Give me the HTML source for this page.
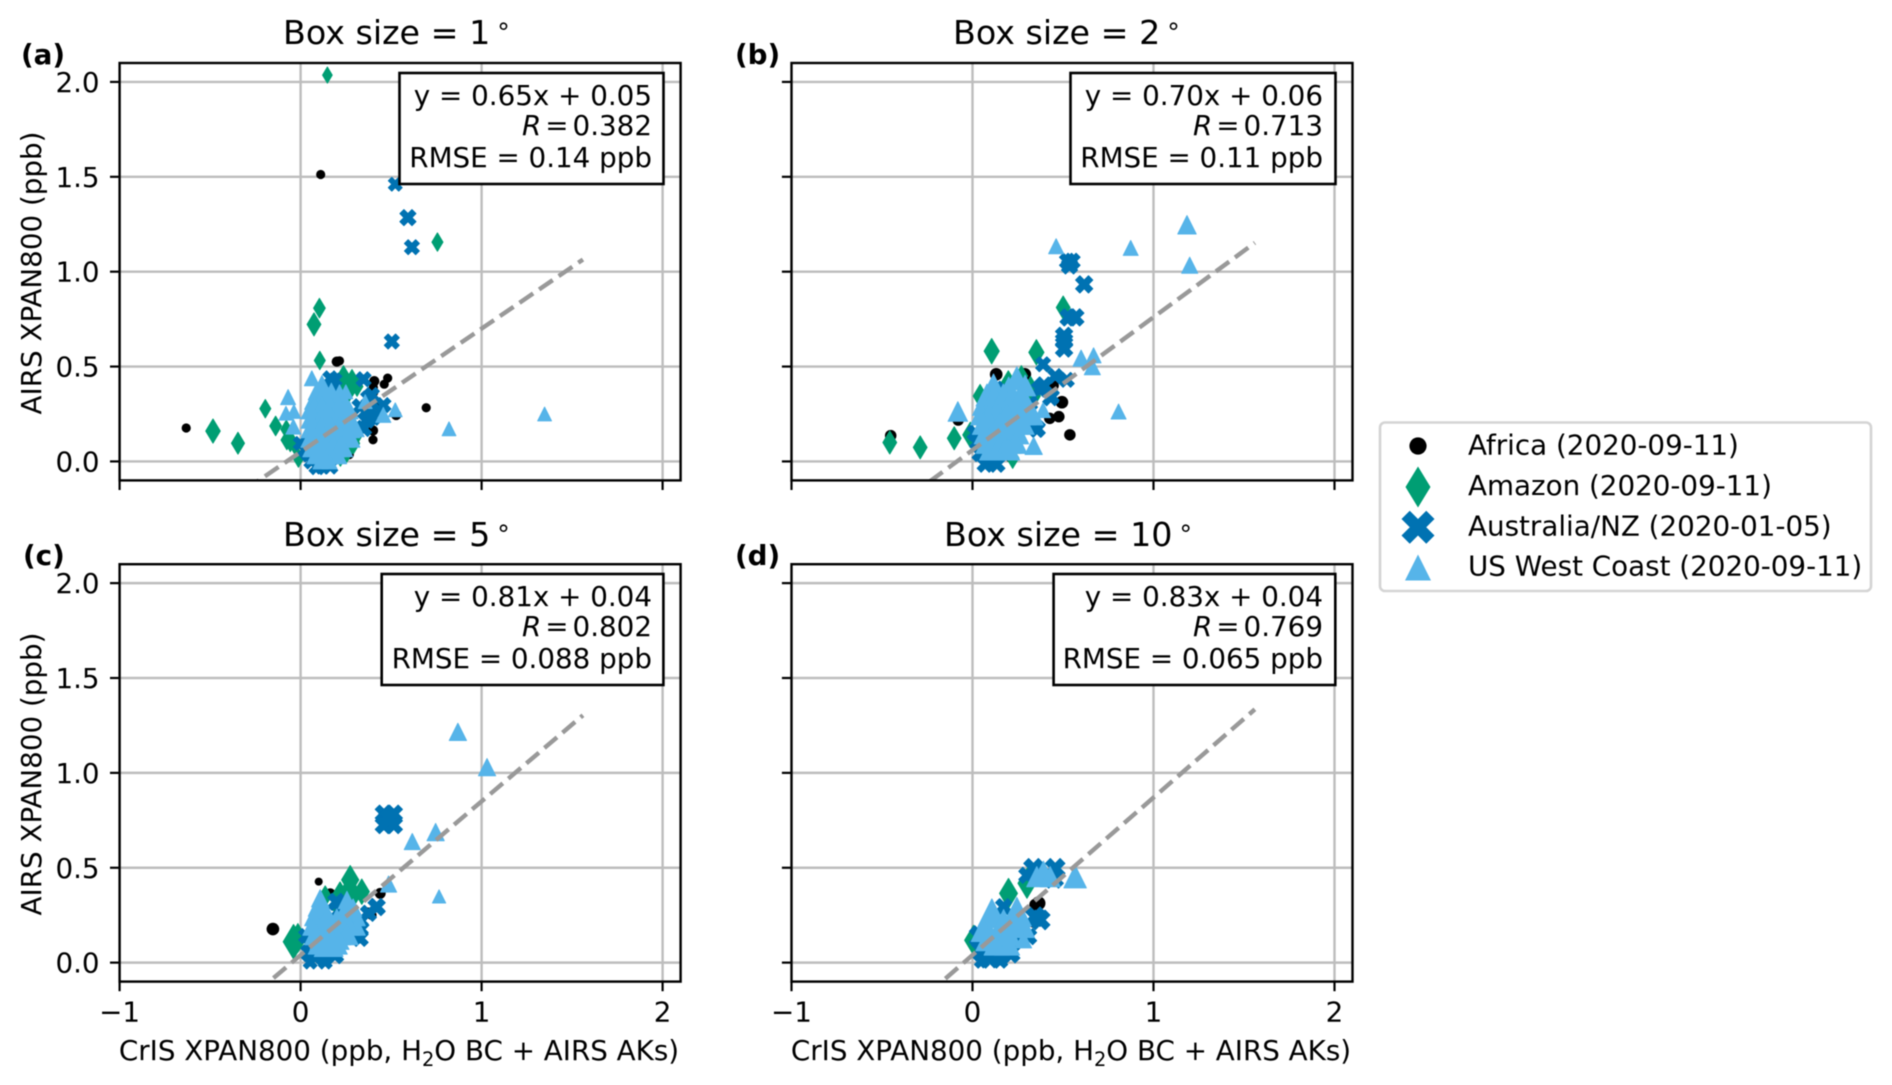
<!DOCTYPE html>
<html lang="en">
<head>
<meta charset="utf-8">
<title>AIRS vs CrIS XPAN800 scatter panels</title>
<style>
html,body{margin:0;padding:0;background:#fff;width:1892px;height:1085px;overflow:hidden}
svg{display:block;filter:blur(.55px)}
text{font-family:"DejaVu Sans","Liberation Sans",sans-serif;fill:#000}
</style>
</head>
<body>
<svg id="figure" xmlns="http://www.w3.org/2000/svg" width="1892" height="1085" viewBox="0 0 1892 1085">
  <rect width="1892" height="1085" fill="#fff"/>
  <g id="panels"></g>

  <g font-size="33.3">
    <text x="283" y="44">Box size = 1<tspan dx="7" font-size="25" dy="-3">°</tspan></text>
    <text x="953" y="44">Box size = 2<tspan dx="7" font-size="25" dy="-3">°</tspan></text>
    <text x="283" y="546">Box size = 5<tspan dx="7" font-size="25" dy="-3">°</tspan></text>
    <text x="944" y="546">Box size = 10<tspan dx="7" font-size="25" dy="-3">°</tspan></text>
  </g>

  <g font-size="27.75" font-weight="bold">
    <text x="21" y="64">(a)</text>
    <text x="735" y="64">(b)</text>
    <text x="23" y="565">(c)</text>
    <text x="735" y="565">(d)</text>
  </g>

  <g font-size="27.75" text-anchor="middle">
    <text transform="translate(41,273) rotate(-90)">AIRS XPAN800 (ppb)</text>
    <text transform="translate(41,774) rotate(-90)">AIRS XPAN800 (ppb)</text>
  </g>

  <g font-size="27.75" text-anchor="middle">
    <text x="399" y="1060">CrIS XPAN800 (ppb, H<tspan font-size="19.4" dy="6">2</tspan><tspan dy="-6">O BC + AIRS AKs)</tspan></text>
    <text x="1071" y="1060">CrIS XPAN800 (ppb, H<tspan font-size="19.4" dy="6">2</tspan><tspan dy="-6">O BC + AIRS AKs)</tspan></text>
  </g>

  <g>
    <rect x="399.5" y="73" width="264" height="111" fill="#fff" stroke="#000" stroke-width="2.6"/>
    <g font-size="27.75" text-anchor="end">
      <text x="652" y="105">y = 0.65x + 0.05</text>
      <text x="652" y="135"><tspan font-style="italic">R</tspan><tspan dx="4">=</tspan><tspan dx="4">0.382</tspan></text>
      <text x="652" y="167">RMSE = 0.14 ppb</text>
    </g>
  </g>
  <g>
    <rect x="1070.5" y="73" width="265" height="111" fill="#fff" stroke="#000" stroke-width="2.6"/>
    <g font-size="27.75" text-anchor="end">
      <text x="1323" y="105">y = 0.70x + 0.06</text>
      <text x="1323" y="135"><tspan font-style="italic">R</tspan><tspan dx="4">=</tspan><tspan dx="4">0.713</tspan></text>
      <text x="1323" y="167">RMSE = 0.11 ppb</text>
    </g>
  </g>
  <g>
    <rect x="381.7" y="574" width="281.7" height="111" fill="#fff" stroke="#000" stroke-width="2.6"/>
    <g font-size="27.75" text-anchor="end">
      <text x="652" y="606">y = 0.81x + 0.04</text>
      <text x="652" y="636"><tspan font-style="italic">R</tspan><tspan dx="4">=</tspan><tspan dx="4">0.802</tspan></text>
      <text x="652" y="668">RMSE = 0.088 ppb</text>
    </g>
  </g>
  <g>
    <rect x="1053.6" y="574" width="281.7" height="111" fill="#fff" stroke="#000" stroke-width="2.6"/>
    <g font-size="27.75" text-anchor="end">
      <text x="1323" y="606">y = 0.83x + 0.04</text>
      <text x="1323" y="636"><tspan font-style="italic">R</tspan><tspan dx="4">=</tspan><tspan dx="4">0.769</tspan></text>
      <text x="1323" y="668">RMSE = 0.065 ppb</text>
    </g>
  </g>

  <g>
    <rect x="1380" y="422.5" width="491" height="168.5" rx="5" ry="5" fill="#fff" stroke="#d4d4d4" stroke-width="2.6"/>
    <g>
      <circle cx="1418" cy="446" r="8.6" fill="#000"/>
      <text x="1468" y="454.5" font-size="27.75">Africa (2020-09-11)</text>
    </g>
    <g>
      <polygon points="1418,466.5 1430.5,487 1418,507.5 1405.5,487" fill="#009e73"/>
      <text x="1468" y="495" font-size="27.75">Amazon (2020-09-11)</text>
    </g>
    <g>
      <polygon points="1409.75,510.7 1418,518.95 1426.25,510.7 1434.5,518.95 1426.25,527.2 1434.5,535.45 1426.25,543.7 1418,535.45 1409.75,543.7 1401.5,535.45 1409.75,527.2 1401.5,518.95" fill="#0072b2"/>
      <text x="1468" y="535.5" font-size="27.75">Australia/NZ (2020-01-05)</text>
    </g>
    <g>
      <polygon points="1418,554.5 1431,580.5 1405,580.5" fill="#56b4e9"/>
      <text x="1468" y="575.5" font-size="27.75">US West Coast (2020-09-11)</text>
    </g>
  </g>
</svg>

<script>
// Axis tick values and labels (shared across panels)
const xTickValues = [-1, 0, 1, 2];
const xTickLabels = ["\u22121", "0", "1", "2"];
const yTickValues = [0, 0.5, 1, 1.5, 2];
const yTickLabels = ["0.0", "0.5", "1.0", "1.5", "2.0"];

// Regression fits: slope, intercept, x start, x end
const fitA = [0.65, 0.05, -0.63, 1.56];
const fitB = [0.70, 0.06, -0.45, 1.56];
const fitC = [0.81, 0.04, -0.15, 1.56];
const fitD = [0.83, 0.04, -0.15, 1.56];

// Scatter points: [CrIS, AIRS, relative marker weight]
const panelAAfrica = [[-.632,.176,.8],[.111,1.512,.8],[.2,.526,.9],[.215,.53,.8],[.481,.439,.8],[.462,.407,.8],[.407,.423,.9],[.402,.39,.8],[.694,.283,.8],[.528,.245,.9],[.4,.163,.9],[.4,.114,.8],[.269,.036,.8],[.407,.363,.7],[.425,.29,.7],[.41,.33,.6]];
const panelAAmazon = [[.148,2.036,1.4],[.756,1.156,1.6],[.104,.808,1.7],[.074,.722,2],[.106,.532,1.6],[-.195,.278,1.6],[-.484,.16,2.1],[-.346,.096,1.9],[-.138,.187,1.7],[-.079,.169,1.6],[-.057,.109,1.9],[-.076,.113,1.7],[-.012,.018,1.6],[.237,.438,2.2],[.284,.43,1.8],[.312,.395,1.7],[.19,.42,1.6],[.27,.37,1.7],[.292,.095,1.8],[.302,.13,1.8],[.255,.047,1.7],[.22,.02,1.5],[-.03,.08,1.5]];
const panelAAustralia = [[.523,1.461,1.2],[.593,1.285,1.4],[.615,1.129,1.3],[.504,.632,1.3],[.164,.438,1.3],[.19,.43,1.2],[.348,.433,1.3],[.173,.367,1.3],[.394,.35,1.3],[.37,.335,1.2],[.458,.297,1.3],[.366,.218,1.4],[.348,.174,1.4],[.329,.288,1.4],[.39,.27,1.4],[.4,.23,1.3],[.36,.26,1.4],[.044,.034,1.2],[.091,-.027,1.4],[.12,-.027,1.3],[-.002,.095,1.2],[.025,.06,1.3],[.164,-.027,1.3],[.06,.0,1.3]];
const panelAUS = [[1.348,.25,1.2],[.82,.172,1.2],[.523,.272,1.2],[.457,.245,1.3],[-.069,.339,1.3],[-.081,.254,1.2],[-.037,.263,1.2],[-.04,.183,1.3],[.062,.438,1.3],[.118,.41,1.4],[.215,.367,1.2],[.25,.367,1.2],[.357,.315,1.2],
  [.09,.37,1.5],[.13,.37,1.5],[.17,.37,1.4],[.07,.32,1.5],[.11,.32,1.5],[.16,.32,1.5],[.2,.32,1.5],[.24,.32,1.5],
  [.05,.27,1.5],[.09,.27,1.5],[.14,.27,1.5],[.19,.27,1.5],[.23,.27,1.5],[.27,.27,1.5],[.05,.22,1.5],[.09,.22,1.5],[.14,.22,1.5],[.19,.22,1.5],[.24,.22,1.5],[.28,.22,1.5],
  [.05,.17,1.5],[.09,.17,1.5],[.14,.17,1.5],[.19,.17,1.5],[.24,.17,1.5],[.28,.17,1.5],[.31,.17,1.3],[.05,.12,1.5],[.1,.12,1.5],[.15,.12,1.5],[.2,.12,1.5],[.25,.12,1.5],[.28,.12,1.5],
  [.06,.07,1.5],[.11,.07,1.5],[.16,.07,1.5],[.2,.07,1.5],[.24,.07,1.5],[.08,.03,1.4],[.13,.03,1.4],[.18,.03,1.4],[.21,.03,1.4],[.11,.0,1.3],[.16,.0,1.3],
  [.075,.295,1.5],[.115,.295,1.5],[.165,.295,1.5],[.21,.295,1.5],[.25,.295,1.5],[.07,.245,1.5],[.115,.245,1.5],[.165,.245,1.5],[.21,.245,1.5],[.26,.245,1.5],[.07,.195,1.5],[.115,.195,1.5],[.165,.195,1.5],[.215,.195,1.5],[.26,.195,1.5],[.07,.145,1.5],[.125,.145,1.5],[.175,.145,1.5],[.225,.145,1.5],[.265,.145,1.5],[.08,.095,1.5],[.13,.095,1.5],[.18,.095,1.5],[.225,.095,1.5]];

const panelBAfrica = [[-.452,.136,1],[.131,.459,1.1],[.289,.459,1.1],[-.079,.218,1],[.494,.312,1.1],[.477,.236,1],[.427,.227,1],[.538,.14,1],[.449,.4,.9],[.254,.067,.9],[.21,.018,.8]];
const panelBAmazon = [[-.457,.1,2],[-.289,.074,2],[-.101,.122,2],[-.012,.14,2.2],[.106,.581,2.2],[.353,.575,2.2],[.501,.811,2],[.042,.345,2],[.198,.417,2],[.321,.381,2.2],[.333,.345,2.2],[.222,.018,1.8],[.27,.45,1.8]];
const panelBAustralia = [[.525,1.055,1.4],[.55,1.055,1.4],[.536,1.03,1.4],[.617,.933,1.5],[.531,.759,1.5],[.568,.759,1.5],[.506,.662,1.5],[.506,.635,1.5],[.506,.595,1.5],[.39,.512,1.3],[.457,.45,1.3],[.521,.43,1.3],[.395,.4,1.5],[.432,.336,1.4],[.392,.395,1.5],[.438,.342,1.3],[.318,.306,1.3],[.358,.172,1.4],[.356,.166,1.3],[.07,-.015,1.4],[.135,-.015,1.4],[.081,.02,1.4],[.015,.15,1.4],[.025,.1,1.3],[.042,.042,1.4],[.173,.381,1.4],[.37,.381,1.4]];
const panelBUS = [[1.185,1.247,1.6],[1.2,1.034,1.4],[.874,1.125,1.3],[.462,1.134,1.3],[.6,.544,1.4],[.669,.559,1.3],[.662,.499,1.4],[.807,.263,1.3],[.338,.082,1.5],[-.081,.263,1.7],
  [.116,.40,2],[.245,.438,2],[.291,.40,1.8],[.2,.39,1.8],[.39,.27,1.3],
  [.08,.35,1.9],[.12,.35,1.9],[.17,.35,1.9],[.22,.35,1.9],[.27,.35,1.9],[.06,.30,1.9],[.1,.30,1.9],[.15,.30,1.9],[.2,.30,1.9],[.25,.30,1.9],[.3,.30,1.9],
  [.05,.25,1.9],[.09,.25,1.9],[.14,.25,1.9],[.19,.25,1.9],[.24,.25,1.9],[.29,.25,1.9],[.33,.25,1.9],[.06,.20,1.9],[.1,.20,1.9],[.15,.20,1.9],[.2,.20,1.9],[.25,.20,1.9],[.28,.20,1.9],
  [.07,.15,1.9],[.11,.15,1.9],[.16,.15,1.9],[.21,.15,1.9],[.25,.15,1.9],[.08,.10,1.9],[.12,.10,1.9],[.17,.10,1.9],[.21,.10,1.9],[.24,.10,1.9],[.1,.065,1.9],[.14,.065,1.9],[.18,.065,1.9],[.2,.065,1.9]];

const panelCAfrica = [[-.153,.177,1.1],[.1,.427,.7],[.164,.365,.9],[.44,.365,.95],[.393,.25,.85],[.37,.27,.7]];
const panelCAmazon = [[.274,.436,2.5],[.338,.374,2.2],[.218,.365,2],[.27,.39,2.2],[-.039,.11,3],[-.015,.13,2.5],[.136,.35,1.8],[.3,.36,1.8],[.2,.3,1.8]];
const panelCAustralia = [[.46,.785,1.5],[.515,.785,1.5],[.46,.725,1.5],[.515,.725,1.5],[.486,.759,1.7],[.42,.293,1.5],[.422,.295,1.3],[.375,.26,1.4],[.33,.22,1.5],[.326,.181,1.5],[.329,.128,1.4],[.3,.17,1.5],[.198,.32,1.5],[.22,.28,1.5],[.053,.003,1.2],[.136,.003,1.2],[.05,.05,1.5],[.08,.03,1.5],[.13,.03,1.5],[.19,.04,1.5],[.05,.1,1.5],[.03,.14,1.3]];
const panelCUS = [[.869,1.216,1.5],[1.03,1.03,1.5],[.746,.688,1.5],[.617,.638,1.4],[.486,.414,1.4],[.765,.349,1.15],[.108,.339,1.5],[.256,.33,1.5],
  [.09,.29,1.5],[.13,.29,1.5],[.25,.29,1.5],[.29,.29,1.5],[.07,.24,1.5],[.11,.24,1.5],[.15,.24,1.5],[.2,.24,1.4],[.24,.24,1.5],[.28,.24,1.5],[.31,.24,1.5],
  [.06,.19,1.5],[.1,.19,1.5],[.14,.19,1.5],[.19,.19,1.5],[.24,.19,1.5],[.28,.19,1.5],[.31,.19,1.5],[.07,.14,1.5],[.11,.14,1.5],[.15,.14,1.5],[.19,.14,1.5],[.23,.14,1.5],[.27,.14,1.5],
  [.09,.09,1.5],[.13,.09,1.5],[.17,.09,1.5],[.21,.09,1.5],[.12,.075,1.4],[.16,.075,1.4],[.19,.075,1.4],[.085,.215,1.5],[.125,.215,1.5],[.17,.215,1.5],[.215,.215,1.5],[.26,.215,1.5],[.085,.165,1.5],[.13,.165,1.5],[.17,.165,1.5],[.215,.165,1.5],[.255,.165,1.5],[.1,.115,1.5],[.14,.115,1.5],[.18,.115,1.5],[.22,.115,1.5]];

const panelDAfrica = [[.365,.313,1.2],[.347,.305,1.05],[.337,.204,.7]];
const panelDAmazon = [[.006,.118,2.6],[.199,.365,2.6],[.301,.418,2.6],[.31,.45,1.9]];
const panelDAustralia = [[.337,.497,1.7],[.457,.497,1.7],[.448,.444,1.7],[.3,.46,1.4],[.346,.242,1.7],[.374,.225,1.7],[.052,.066,1.9],[.153,.05,1.9],[.208,.05,1.7],[.052,.01,1.3],[.153,.01,1.3],[.043,.137,1.9],[.09,.03,1.9],[.172,.295,1.4],[.245,.137,1.4],[.31,.137,1.4]];
const panelDUS = [[.567,.453,1.95],[.392,.471,2.1],[.355,.453,1.75],[.429,.453,1.75],[.107,.26,2.5],[.245,.268,2.5],[.06,.175,2.1],[.172,.21,2.3],[.282,.19,1.9],[.282,.12,1.4],[.134,.106,2.2],[.19,.106,2.2],[.079,.12,1.9],[.15,.17,2.1],[.22,.2,2.1],[.1,.14,2],[.2,.15,2]];

// Series styling
const seriesColors = {africa:"#000000", amazon:"#009e73", australia:"#0072b2", us:"#56b4e9"};

const svgNS = "http://www.w3.org/2000/svg";
const panelHost = document.getElementById("panels");
const weightUnit = 11.5;

function markerPoints(kind, cx, cy, s) {
  let pts;
  if (kind === "amazon") pts = [[0,-.5],[.3,0],[0,.5],[-.3,0]];
  else if (kind === "australia") pts = [[-.25,-.5],[0,-.25],[.25,-.5],[.5,-.25],[.25,0],[.5,.25],[.25,.5],[0,.25],[-.25,.5],[-.5,.25],[-.25,0],[-.5,-.25]];
  else pts = [[0,-.5],[.5,.5],[-.5,.5]];
  return pts.map(p => (cx + p[0]*s).toFixed(2) + "," + (cy + p[1]*s).toFixed(2)).join(" ");
}

function drawSeries(parent, kind, points, sx, sy, panelId) {
  const g = document.createElementNS(svgNS, "g");
  
  
  g.setAttribute("fill", seriesColors[kind]);
  if (kind !== "africa") {
    g.setAttribute("stroke", seriesColors[kind]);
    g.setAttribute("stroke-width", "1");
    g.setAttribute("stroke-linejoin", "round");
  }
  points.forEach(p => {
    const cx = sx(p[0]), cy = sy(p[1]), s = p[2] * weightUnit;
    let m;
    if (kind === "africa") {
      m = document.createElementNS(svgNS, "circle");
      m.setAttribute("cx", cx.toFixed(2));
      m.setAttribute("cy", cy.toFixed(2));
      m.setAttribute("r", (s / 2).toFixed(2));
    } else {
      m = document.createElementNS(svgNS, "polygon");
      m.setAttribute("points", markerPoints(kind, cx, cy, s));
    }
    
    
    g.appendChild(m);
  });
  parent.appendChild(g);
}

function drawPanel(id, left, top, xLabels, yLabels, africa, amazon, australia, us, fit) {
  const axW = 561, axH = 417.4;
  const sx = v => left + (v + 1) * 181;
  const sy = v => top + axH - (v + 0.1) * 189.75;
  const bottom = top + axH, right = left + axW;

  const root = document.createElementNS(svgNS, "g");
  
  
  panelHost.appendChild(root);

  const clip = document.createElementNS(svgNS, "clipPath");
  clip.setAttribute("id", "clip-" + id);
  const clipRect = document.createElementNS(svgNS, "rect");
  clipRect.setAttribute("x", left);
  clipRect.setAttribute("y", top);
  clipRect.setAttribute("width", axW);
  clipRect.setAttribute("height", axH);
  clip.appendChild(clipRect);
  root.appendChild(clip);

  const grid = document.createElementNS(svgNS, "g");
  
  
  grid.setAttribute("stroke", "#bdbdbd");
  grid.setAttribute("stroke-width", "2.4");
  root.appendChild(grid);

  const ticks = document.createElementNS(svgNS, "g");
  
  
  ticks.setAttribute("stroke", "#000");
  ticks.setAttribute("stroke-width", "2.2");
  root.appendChild(ticks);

  const labels = document.createElementNS(svgNS, "g");
  
  
  labels.setAttribute("font-size", "27.75");
  root.appendChild(labels);

  xTickValues.forEach((v, i) => {
    const x = sx(v);
    if (v > -1) {
      const gl = document.createElementNS(svgNS, "line");
      
      
      gl.setAttribute("x1", x); gl.setAttribute("x2", x);
      gl.setAttribute("y1", top); gl.setAttribute("y2", bottom);
      grid.appendChild(gl);
    }
    const t = document.createElementNS(svgNS, "line");
    
    
    t.setAttribute("x1", x); t.setAttribute("x2", x);
    t.setAttribute("y1", bottom); t.setAttribute("y2", bottom + 9.6);
    ticks.appendChild(t);
    if (xLabels) {
      const tx = document.createElementNS(svgNS, "text");
      
      
      tx.setAttribute("x", x);
      tx.setAttribute("y", bottom + 40);
      tx.setAttribute("text-anchor", "middle");
      tx.textContent = xTickLabels[i];
      labels.appendChild(tx);
    }
  });

  yTickValues.forEach((v, i) => {
    const y = sy(v);
    const gl = document.createElementNS(svgNS, "line");
    
    
    gl.setAttribute("x1", left); gl.setAttribute("x2", right);
    gl.setAttribute("y1", y); gl.setAttribute("y2", y);
    grid.appendChild(gl);
    const t = document.createElementNS(svgNS, "line");
    
    
    t.setAttribute("x1", left - 9.6); t.setAttribute("x2", left);
    t.setAttribute("y1", y); t.setAttribute("y2", y);
    ticks.appendChild(t);
    if (yLabels) {
      const ty = document.createElementNS(svgNS, "text");
      
      
      ty.setAttribute("x", left - 20);
      ty.setAttribute("y", y + 10);
      ty.setAttribute("text-anchor", "end");
      ty.textContent = yTickLabels[i];
      labels.appendChild(ty);
    }
  });

  const plot = document.createElementNS(svgNS, "g");
  
  
  plot.setAttribute("clip-path", "url(#clip-" + id + ")");
  root.appendChild(plot);

  drawSeries(plot, "africa", africa, sx, sy, id);
  drawSeries(plot, "amazon", amazon, sx, sy, id);
  drawSeries(plot, "australia", australia, sx, sy, id);
  drawSeries(plot, "us", us, sx, sy, id);

  const fitLine = document.createElementNS(svgNS, "line");
  
  
  fitLine.setAttribute("x1", sx(fit[2]));
  fitLine.setAttribute("y1", sy(fit[0] * fit[2] + fit[1]));
  fitLine.setAttribute("x2", sx(fit[3]));
  fitLine.setAttribute("y2", sy(fit[0] * fit[3] + fit[1]));
  fitLine.setAttribute("stroke", "#999999");
  fitLine.setAttribute("stroke-width", "4.4");
  fitLine.setAttribute("stroke-dasharray", "16.5 7.2");
  plot.appendChild(fitLine);

  const frame = document.createElementNS(svgNS, "rect");
  
  
  frame.setAttribute("x", left);
  frame.setAttribute("y", top);
  frame.setAttribute("width", axW);
  frame.setAttribute("height", axH);
  frame.setAttribute("fill", "none");
  frame.setAttribute("stroke", "#000");
  frame.setAttribute("stroke-width", "2.4");
  root.appendChild(frame);
}

drawPanel("a", 119.6, 63, false, true, panelAAfrica, panelAAmazon, panelAAustralia, panelAUS, fitA);
drawPanel("b", 791.5, 63, false, false, panelBAfrica, panelBAmazon, panelBAustralia, panelBUS, fitB);
drawPanel("c", 119.6, 564.2, true, true, panelCAfrica, panelCAmazon, panelCAustralia, panelCUS, fitC);
drawPanel("d", 791.5, 564.2, true, false, panelDAfrica, panelDAmazon, panelDAustralia, panelDUS, fitD);
</script>
</body>
</html>
